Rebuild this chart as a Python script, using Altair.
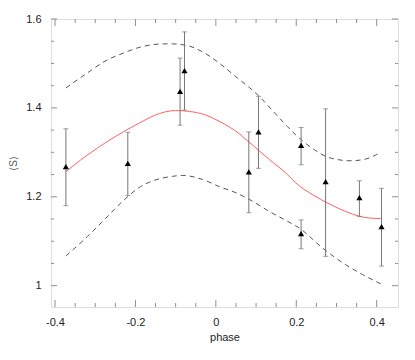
import altair as alt
import pandas as pd

# measured points with error bars
px = [-0.373, -0.219, -0.089, -0.078, 0.082, 0.106, 0.212, 0.212, 0.273, 0.357, 0.412]
py = [1.268, 1.275, 1.437, 1.484, 1.256, 1.346, 1.316, 1.117, 1.234, 1.198, 1.133]
lo = [1.180, 1.203, 1.361, 1.395, 1.164, 1.264, 1.272, 1.083, 1.066, 1.156, 1.044]
hi = [1.353, 1.345, 1.512, 1.571, 1.346, 1.426, 1.356, 1.148, 1.398, 1.236, 1.219]

# fitted curve (red)
fit_x = [-0.373, -0.357, -0.274, -0.19, -0.153, -0.1, -0.066, -0.025, 0.008, 0.058,
         0.075, 0.133, 0.178, 0.199, 0.240, 0.282, 0.323, 0.357, 0.385, 0.410]
fit_y = [1.256, 1.268, 1.322, 1.366, 1.383, 1.394, 1.392, 1.384, 1.370, 1.342,
         1.329, 1.284, 1.250, 1.231, 1.205, 1.184, 1.167, 1.156, 1.152, 1.151]

# upper envelope (dashed)
up_x = [-0.373, -0.319, -0.278, -0.228, -0.187, -0.129, -0.108, -0.066, -0.033, 0.008,
        0.05, 0.103, 0.149, 0.178, 0.199, 0.240, 0.282, 0.336, 0.373, 0.410]
up_y = [1.445, 1.479, 1.504, 1.524, 1.537, 1.544, 1.544, 1.539, 1.526, 1.501,
        1.470, 1.430, 1.386, 1.358, 1.339, 1.309, 1.288, 1.281, 1.285, 1.300]

# lower envelope (dashed)
lw_x = [-0.373, -0.319, -0.278, -0.228, -0.187, -0.153, -0.108, -0.083, -0.033, 0.008,
        0.05, 0.091, 0.133, 0.178, 0.207, 0.265, 0.323, 0.365, 0.410]
lw_y = [1.067, 1.111, 1.148, 1.193, 1.223, 1.237, 1.246, 1.248, 1.239, 1.223,
        1.209, 1.190, 1.167, 1.145, 1.130, 1.085, 1.047, 1.025, 1.004]

x_major = [-0.4, -0.2, 0, 0.2, 0.4]
x_minor = [-0.35, -0.3, -0.25, -0.15, -0.1, -0.05, 0.05, 0.1, 0.15, 0.25, 0.3, 0.35]
y_major = [1, 1.2, 1.4, 1.6]
y_minor = [1.05, 1.1, 1.15, 1.25, 1.3, 1.35, 1.45, 1.5, 1.55]

W, H = 347, 288
xs = alt.Scale(domain=[-0.41, 0.453], nice=False, zero=False)
ys = alt.Scale(domain=[0.952, 1.6], nice=False, zero=False)
TC = "#909090"

pts = pd.DataFrame({"x": px, "y": py, "lo": lo, "hi": hi})
fit = pd.DataFrame({"x": fit_x, "y": fit_y})
up = pd.DataFrame({"x": up_x, "y": up_y})
lw = pd.DataFrame({"x": lw_x, "y": lw_y})

x_main = alt.Axis(orient="bottom", values=x_major, ticks=False, domain=False, grid=False,
                  labelExpr="'' + datum.value", labelPadding=9, labelFontSize=11,
                  labelColor="#222222", labelFont="Liberation Sans",
                  title="phase", titleFontSize=11, titleFontWeight="normal",
                  titleFont="Liberation Sans", titleColor="#222222", titlePadding=4)
y_main = alt.Axis(orient="left", values=y_major, ticks=False, domain=False, grid=False,
                  labelExpr="'' + datum.value", labelPadding=10, labelFontSize=11,
                  labelColor="#222222", labelFont="Liberation Sans",
                  title="⟨S⟩", titleFontSize=10, titleFontWeight="normal",
                  titleColor="#555555", titlePadding=7)


def xticks(values, size):
    d = pd.DataFrame({"v": values})
    base = alt.Chart(d).mark_rule(color=TC, strokeWidth=1)
    bottom = base.encode(x=alt.X("v:Q", scale=xs, axis=None),
                         y=alt.value(H), y2=alt.value(H - size))
    top = base.encode(x=alt.X("v:Q", scale=xs, axis=None),
                      y=alt.value(0), y2=alt.value(size))
    return [bottom, top]


def yticks(values, size):
    d = pd.DataFrame({"v": values})
    base = alt.Chart(d).mark_rule(color=TC, strokeWidth=1)
    left = base.encode(y=alt.Y("v:Q", scale=ys, axis=None),
                       x=alt.value(0), x2=alt.value(size))
    right = base.encode(y=alt.Y("v:Q", scale=ys, axis=None),
                        x=alt.value(W), x2=alt.value(W - size))
    return [left, right]


tick_layers = xticks(x_major, 7) + xticks(x_minor, 4) + yticks(y_major, 6) + yticks(y_minor, 3)

upper = alt.Chart(up).mark_line(color="#555555", strokeWidth=1, strokeDash=[5, 4],
                                interpolate="monotone").encode(
    x=alt.X("x:Q", scale=xs, axis=x_main),
    y=alt.Y("y:Q", scale=ys, axis=y_main))

lower = alt.Chart(lw).mark_line(color="#555555", strokeWidth=1, strokeDash=[5, 4],
                                interpolate="monotone").encode(
    x=alt.X("x:Q", scale=xs, axis=None),
    y=alt.Y("y:Q", scale=ys, axis=None))

red = alt.Chart(fit).mark_line(color="#ff6060", strokeWidth=1,
                               interpolate="monotone").encode(
    x=alt.X("x:Q", scale=xs, axis=None),
    y=alt.Y("y:Q", scale=ys, axis=None))

bars = alt.Chart(pts).mark_rule(color="#777777", strokeWidth=1).encode(
    x=alt.X("x:Q", scale=xs, axis=None),
    y=alt.Y("lo:Q", scale=ys, axis=None),
    y2="hi:Q")

cap_lo = alt.Chart(pts).mark_tick(color="#777777", orient="horizontal", size=5,
                                  thickness=1).encode(
    x=alt.X("x:Q", scale=xs, axis=None),
    y=alt.Y("lo:Q", scale=ys, axis=None))

cap_hi = alt.Chart(pts).mark_tick(color="#777777", orient="horizontal", size=5,
                                  thickness=1).encode(
    x=alt.X("x:Q", scale=xs, axis=None),
    y=alt.Y("hi:Q", scale=ys, axis=None))

marks = alt.Chart(pts).mark_point(shape="triangle-up", filled=True, color="black",
                                  size=38, opacity=1).encode(
    x=alt.X("x:Q", scale=xs, axis=None),
    y=alt.Y("y:Q", scale=ys, axis=None))

chart = alt.layer(upper, lower, red, bars, cap_lo, cap_hi, marks, *tick_layers).resolve_axis(
    x="independent", y="independent"
).properties(
    width=W, height=H,
    autosize=alt.AutoSizeParams(type="none"),
    padding={"left": 43, "top": 11, "right": 9, "bottom": 45},
).configure_view(stroke=TC, strokeWidth=1).configure(background="white")

chart.save("out.html", embed_options={"renderer": "svg", "actions": False})
